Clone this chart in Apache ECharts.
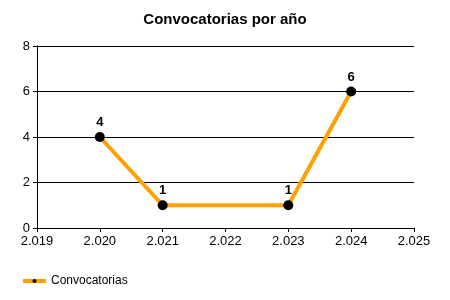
<!DOCTYPE html>
<html><head><meta charset="utf-8">
<script src="https://cdn.jsdelivr.net/npm/echarts@6/dist/echarts.min.js"></script>
<style>html,body{margin:0;padding:0;background:#fff}#c{width:450px;height:300px}</style>
</head><body><div id="c"></div>
<script>
const years = [2020, 2021, 2023, 2024];
const counts = [4, 1, 1, 6];
const seriesName = 'Convocatorias';
const titleText = 'Convocatorias por año';

const chart = echarts.init(document.getElementById('c'));
const font = '"Liberation Sans", Arial, sans-serif';
chart.setOption({
  animation: false,
  backgroundColor: '#fff',
  title: {text: titleText, left: 'center', top: 7,
    textStyle: {fontFamily: font, fontSize: 15, fontWeight: 'bold', color: '#000'}},
  legend: {left: 16, top: 270, itemWidth: 23, itemHeight: 5, itemGap: 4,
    lineStyle: {width: 4, color: '#FFA000'},
    textStyle: {fontFamily: font, fontSize: 12, color: '#000'},
    data: [{name: seriesName}]},
  grid: {left: 37, right: 36, top: 46, bottom: 72, containLabel: false},
  xAxis: {type: 'value', min: 2019, max: 2025, interval: 1,
    axisLine: {show: true, lineStyle: {color: '#000', width: 1}},
    axisTick: {show: true, length: 4, lineStyle: {color: '#000'}},
    axisLabel: {fontFamily: font, fontSize: 13, color: '#000', margin: 7,
      formatter: v => String(v).replace(/(\d)(\d{3})$/, '$1.$2')},
    splitLine: {show: false}},
  yAxis: {type: 'value', min: 0, max: 8, interval: 2,
    axisLine: {show: true, lineStyle: {color: '#000', width: 1}},
    axisTick: {show: true, length: 4, lineStyle: {color: '#000'}},
    axisLabel: {fontFamily: font, fontSize: 13, color: '#000', margin: 7},
    splitLine: {show: true, lineStyle: {color: '#000', width: 1}}},
  series: [{
    name: seriesName, type: 'line',
    data: years.map((y, i) => [y, counts[i]]),
    lineStyle: {color: '#FFA000', width: 4},
    itemStyle: {color: '#000', borderWidth: 0},
    symbol: 'circle', symbolSize: 10,
    label: {show: true, position: 'top', distance: 3,
      fontFamily: font, fontSize: 13, fontWeight: 'bold', color: '#000'},
    emphasis: {disabled: true}
  }]
});
</script></body></html>
